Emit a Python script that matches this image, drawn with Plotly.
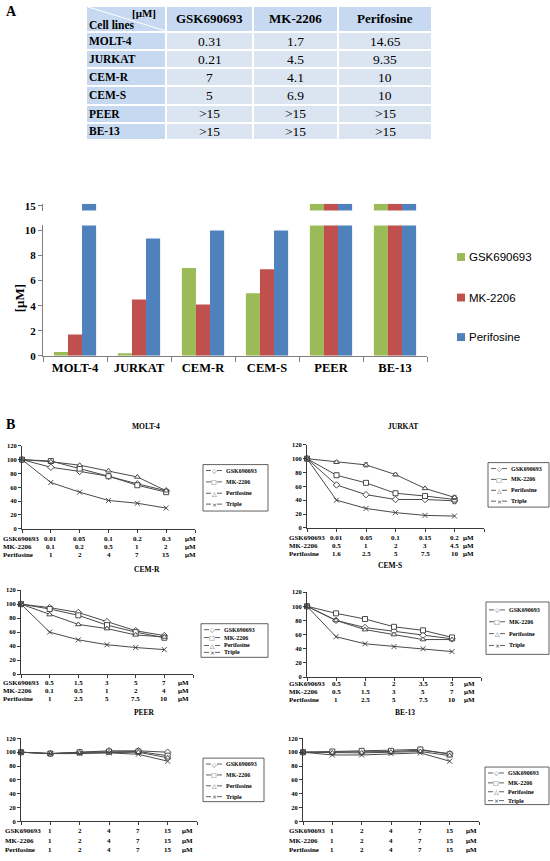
import plotly.graph_objects as go

W, H = 550, 861
SERIF = "Liberation Serif, Times New Roman, serif"
SANS = "Liberation Sans, Arial, sans-serif"

# ---------------- Panel A data ----------------
CELL_LINES = ["MOLT-4", "JURKAT", "CEM-R", "CEM-S", "PEER", "BE-13"]
DRUGS = ["GSK690693", "MK-2206", "Perifosine"]
IC50_GSK = [0.31, 0.21, 7, 5, 15, 15]
IC50_MK = [1.7, 4.5, 4.1, 6.9, 15, 15]
IC50_PERI = [14.65, 9.35, 10, 10, 15, 15]
TXT_GSK = ["0.31", "0.21", "7", "5", ">15", ">15"]
TXT_MK = ["1.7", "4.5", "4.1", "6.9", ">15", ">15"]
TXT_PERI = ["14.65", "9.35", "10", "10", ">15", ">15"]
BAR_TICKS_LOW = [0, 2, 4, 6, 8, 10]
BAR_TICKS_HIGH = [15]

# ---------------- Panel B data (% viability) ----------------
MOLT4_GSK = [100, 89, 83, 76, 65, 55]
MOLT4_MK = [100, 98, 87, 76, 63, 53]
MOLT4_PERI = [100, 97, 92, 84, 75, 55]
MOLT4_TRIPLE = [100, 67, 53, 41, 37, 30]
MOLT4_DOSE_GSK = ["0.01", "0.05", "0.1", "0.2", "0.3"]
MOLT4_DOSE_MK = ["0.1", "0.2", "0.5", "1", "2"]
MOLT4_DOSE_PERI = ["1", "2", "4", "7", "15"]

JURKAT_GSK = [100, 62, 48, 41, 41, 39]
JURKAT_MK = [100, 76, 65, 50, 46, 41]
JURKAT_PERI = [100, 95, 91, 77, 57, 44]
JURKAT_TRIPLE = [100, 40, 28, 22, 18, 17]
JURKAT_ERR_GSK = [0, 2, 1, 1, 1, 4]
JURKAT_ERR_MK = [0, 3, 1, 1, 1, 2]
JURKAT_ERR_PERI = [0, 2, 3, 2, 1, 3]
JURKAT_DOSE_GSK = ["0.01", "0.05", "0.1", "0.15", "0.2"]
JURKAT_DOSE_MK = ["0.5", "1", "2", "3", "4.5"]
JURKAT_DOSE_PERI = ["1.6", "2.5", "5", "7.5", "10"]

CEMR_GSK = [100, 95, 88, 75, 62, 55]
CEMR_MK = [100, 93, 84, 70, 60, 52]
CEMR_PERI = [100, 85, 71, 65, 56, 53]
CEMR_TRIPLE = [100, 60, 49, 42, 38, 35]
CEMR_DOSE_GSK = ["0.5", "1.5", "3", "5", "7"]
CEMR_DOSE_MK = ["0.1", "0.5", "1", "2", "4"]
CEMR_DOSE_PERI = ["1", "2.5", "5", "7.5", "10"]

CEMS_GSK = [100, 80, 70, 65, 59, 54]
CEMS_MK = [100, 90, 82, 71, 66, 56]
CEMS_PERI = [100, 80, 67, 60, 53, 53]
CEMS_TRIPLE = [100, 57, 47, 43, 40, 36]
CEMS_DOSE_GSK = ["0.5", "1", "2", "3.5", "5"]
CEMS_DOSE_MK = ["0.5", "1.5", "3", "5", "7"]
CEMS_DOSE_PERI = ["1", "2.5", "5", "7.5", "10"]

PEER_GSK = [100, 98, 100, 102, 102, 100]
PEER_MK = [100, 98, 100, 101, 101, 95]
PEER_PERI = [100, 98, 99, 99, 100, 92]
PEER_TRIPLE = [100, 98, 98, 99, 97, 87]
PEER_DOSE_GSK = ["1", "2", "4", "7", "15"]
PEER_DOSE_MK = ["1", "2", "4", "7", "15"]
PEER_DOSE_PERI = ["1", "2", "4", "7", "15"]

BE13_GSK = [100, 100, 101, 101, 103, 98]
BE13_MK = [100, 101, 102, 102, 104, 97]
BE13_PERI = [100, 99, 99, 100, 101, 95]
BE13_TRIPLE = [100, 96, 96, 98, 99, 87]
BE13_DOSE_GSK = ["1", "2", "4", "7", "15"]
BE13_DOSE_MK = ["1", "2", "4", "7", "15"]
BE13_DOSE_PERI = ["1", "2", "4", "7", "15"]

DOSE_POSITIONS = [0, 1, 2, 3, 4, 5]
SERIES_NAMES = ["GSK690693", "MK-2206", "Perifosine", "Triple"]


def X(px):
    return px / W


def Y(py):
    return 1 - py / H


fig = go.Figure()
annotations = []
shapes = []

# ---------------- Table (heatmap cells on a hidden axis) ----------------
HEAD_FILL = "#c6d9f1"
BODY_FILL = "#dbe5f1"
TABLE_COL_EDGES = [0, 80, 167, 252, 346]
TABLE_ROW_EDGES = [0, 26, 45, 63, 81, 100, 118, 136]
z = [[0, 0, 0, 0]] + [[0, 1, 1, 1] for _ in CELL_LINES]
fig.add_trace(go.Heatmap(
    x=TABLE_COL_EDGES, y=TABLE_ROW_EDGES, z=z, xaxis="x8", yaxis="y9",
    colorscale=[[0, HEAD_FILL], [1, BODY_FILL]], zmin=0, zmax=1, showscale=False,
    xgap=2, ygap=2, hoverinfo="skip",
))


def col_c(i):
    return (TABLE_COL_EDGES[i] + TABLE_COL_EDGES[i + 1]) / 2


def row_c(i):
    return (TABLE_ROW_EDGES[i] + TABLE_ROW_EDGES[i + 1]) / 2


for j, d in enumerate(DRUGS):
    annotations.append(dict(text="<b>%s</b>" % d, x=col_c(j + 1), y=row_c(0), xref="x8", yref="y9",
                            showarrow=False, font=dict(family=SERIF, size=13, color="black")))
for r, cl in enumerate(CELL_LINES):
    annotations.append(dict(text="<b>%s</b>" % cl, x=TABLE_COL_EDGES[0] + 1, y=row_c(r + 1), xref="x8",
                            yref="y9", xanchor="left", showarrow=False,
                            font=dict(family=SERIF, size=11.5, color="black")))
    for j, col in enumerate([TXT_GSK, TXT_MK, TXT_PERI]):
        annotations.append(dict(text=col[r], x=col_c(j + 1), y=row_c(r + 1), xref="x8", yref="y9",
                                showarrow=False, font=dict(family=SERIF, size=13.5, color="black")))
shapes.append(dict(type="line", xref="x8", yref="y9", x0=TABLE_COL_EDGES[0] + 2, y0=TABLE_ROW_EDGES[0] + 1,
                   x1=TABLE_COL_EDGES[1] - 1, y1=TABLE_ROW_EDGES[1] - 1,
                   line=dict(color="white", width=1), layer="above"))
annotations.append(dict(text="<b>[μM]</b>", x=X(158), y=Y(9), xref="paper", yref="paper", xanchor="right",
                        yanchor="middle", showarrow=False, font=dict(family=SERIF, size=11, color="black")))
annotations.append(dict(text="<b>Cell lines</b>", x=X(87), y=Y(21), xref="paper", yref="paper", xanchor="left",
                        yanchor="middle", showarrow=False, font=dict(family=SERIF, size=11.5, color="black")))
annotations.append(dict(text="<b>A</b>", x=X(4), y=Y(8), xref="paper", yref="paper", xanchor="left",
                        yanchor="middle", showarrow=False, font=dict(family=SERIF, size=14, color="black")))

# ---------------- Bar chart (broken axis) ----------------
BAR_COLORS = ["#9bbb59", "#c0504d", "#4f81bd"]
LOW_RANGE = [0, 10.4]
HIGH_RANGE = [14.4, 15.3]
for name, vals, col in zip(DRUGS, [IC50_GSK, IC50_MK, IC50_PERI], BAR_COLORS):
    fig.add_trace(go.Bar(x=CELL_LINES, y=vals, name=name, marker=dict(color=col, line=dict(width=0)),
                         xaxis="x", yaxis="y", showlegend=False, hoverinfo="skip"))
for name, vals, col in zip(DRUGS, [IC50_GSK, IC50_MK, IC50_PERI], BAR_COLORS):
    upper = [HIGH_RANGE[1] if v > LOW_RANGE[1] else None for v in vals]
    fig.add_trace(go.Bar(x=CELL_LINES, y=upper, name=name, marker=dict(color=col, line=dict(width=0)),
                         xaxis="x", yaxis="y2", showlegend=False, hoverinfo="skip"))

BAR_LEG_Y = [256, 297, 337]
for name, col, ly in zip(DRUGS, BAR_COLORS, BAR_LEG_Y):
    shapes.append(dict(type="rect", xref="paper", yref="paper", x0=X(457), x1=X(465), y0=Y(ly + 4),
                       y1=Y(ly - 4), fillcolor=col, line=dict(width=0)))
    annotations.append(dict(text=name, x=X(467), y=Y(ly), xref="paper", yref="paper", xanchor="left",
                            yanchor="middle", showarrow=False, font=dict(family=SANS, size=11.5, color="black")))

annotations.append(dict(text="<b>[μM]</b>", x=X(10), y=Y(282), xref="paper", yref="paper", textangle=-90,
                        showarrow=False, font=dict(family=SERIF, size=13, color="black")))

layout_axes = dict(
    xaxis=dict(domain=[X(43), X(427)], anchor="y", type="category", tickson="boundaries", ticks="outside",
               ticklen=5, tickcolor="#808080", showline=True, linecolor="#808080", showgrid=False,
               tickfont=dict(family=SERIF, size=12.5, color="black", weight="bold")),
    yaxis=dict(domain=[Y(356), Y(224)], anchor="x", range=LOW_RANGE, tickvals=BAR_TICKS_LOW, ticks="outside",
               ticklen=4, tickcolor="#808080", showline=True, linecolor="#808080", showgrid=False,
               zeroline=False, tickfont=dict(family=SERIF, size=11, color="black", weight="bold")),
    yaxis2=dict(domain=[Y(209), Y(202)], anchor="x", range=HIGH_RANGE, tickvals=BAR_TICKS_HIGH, ticks="outside",
                ticklen=4, tickcolor="#808080", showline=True, linecolor="#808080", showgrid=False,
                zeroline=False, tickfont=dict(family=SERIF, size=11, color="black", weight="bold")),
    xaxis8=dict(domain=[X(86), X(432)], anchor="y9", range=[TABLE_COL_EDGES[0], TABLE_COL_EDGES[-1]],
                visible=False, fixedrange=True),
    yaxis9=dict(domain=[Y(138), Y(2)], anchor="x8", range=[TABLE_ROW_EDGES[-1], TABLE_ROW_EDGES[0]],
                visible=False, fixedrange=True),
)

# ---------------- Panel B line charts ----------------
PANELS = [
    dict(title="MOLT-4", series=[MOLT4_GSK, MOLT4_MK, MOLT4_PERI, MOLT4_TRIPLE], err=None,
         doses=[MOLT4_DOSE_GSK, MOLT4_DOSE_MK, MOLT4_DOSE_PERI],
         box=(22, 195, 531, 447), tpos=(130, 427), lab_x=1, mu_x=190, rows=(541, 549, 557),
         leg=(203, 466, 268, 513), items=(472, 483.5, 495, 506)),
    dict(title="JURKAT", series=[JURKAT_GSK, JURKAT_MK, JURKAT_PERI, JURKAT_TRIPLE],
         err=[JURKAT_ERR_GSK, JURKAT_ERR_MK, JURKAT_ERR_PERI, None],
         doses=[JURKAT_DOSE_GSK, JURKAT_DOSE_MK, JURKAT_DOSE_PERI],
         box=(307, 484, 530, 446), tpos=(420, 427), lab_x=287, mu_x=468, rows=(540, 548, 556),
         leg=(488, 464, 549, 509), items=(470, 481, 492, 503)),
    dict(title="CEM-R", series=[CEMR_GSK, CEMR_MK, CEMR_PERI, CEMR_TRIPLE], err=None,
         doses=[CEMR_DOSE_GSK, CEMR_DOSE_MK, CEMR_DOSE_PERI],
         box=(21, 193, 678, 593), tpos=(132, 572), lab_x=1, mu_x=183, rows=(687, 695, 703),
         leg=(201, 627, 268, 661), items=(633, 641, 649, 656)),
    dict(title="CEM-S", series=[CEMS_GSK, CEMS_MK, CEMS_PERI, CEMS_TRIPLE], err=None,
         doses=[CEMS_DOSE_GSK, CEMS_DOSE_MK, CEMS_DOSE_PERI],
         box=(307, 481, 681, 595), tpos=(404, 568), lab_x=287, mu_x=469, rows=(688, 696, 704),
         leg=(486, 605, 549, 658), items=(613, 625, 637, 649)),
    dict(title="PEER", series=[PEER_GSK, PEER_MK, PEER_PERI, PEER_TRIPLE], err=None,
         doses=[PEER_DOSE_GSK, PEER_DOSE_MK, PEER_DOSE_PERI],
         box=(21, 197, 827, 743), tpos=(132, 723), lab_x=3, mu_x=187, rows=(837, 847, 856),
         leg=(203, 763, 264, 807), items=(769, 780, 791, 802)),
    dict(title="BE-13", series=[BE13_GSK, BE13_MK, BE13_PERI, BE13_TRIPLE], err=None,
         doses=[BE13_DOSE_GSK, BE13_DOSE_MK, BE13_DOSE_PERI],
         box=(303, 479, 827, 743), tpos=(417, 723), lab_x=287, mu_x=471, rows=(837, 847, 856),
         leg=(485, 772, 549, 810), items=(778, 788, 797, 806)),
]
SYMBOLS = ["diamond", "square", "triangle-up", "x-thin"]
LEG_GLYPHS = ["◇", "□", "△", "×"]
DARK = "#3a3a3a"
DRUG_LABELS = ["GSK690693", "MK-2206", "Perifosine"]

for i, p in enumerate(PANELS):
    xa = "x%d" % (i + 2)
    ya = "y%d" % (i + 3)
    x0, x1, yb, yt = p["box"]
    layout_axes["xaxis%d" % (i + 2)] = dict(
        domain=[X(x0), X(x1)], anchor=ya, range=[0, 6], tickvals=list(range(7)), ticks="outside",
        ticklen=3, tickcolor=DARK, showline=True, linecolor=DARK, linewidth=1, showgrid=False,
        zeroline=False, showticklabels=False)
    layout_axes["yaxis%d" % (i + 3)] = dict(
        domain=[Y(yb), Y(yt)], anchor=xa, range=[0, 120], dtick=20, ticks="outside", ticklen=3,
        tickcolor=DARK, showline=True, linecolor=DARK, linewidth=1, showgrid=False, zeroline=False,
        tickfont=dict(family=SERIF, size=6.5, color="black", weight="bold"))
    for k, (sname, vals) in enumerate(zip(SERIES_NAMES, p["series"])):
        err = p["err"][k] if p["err"] else None
        tr = go.Scatter(
            x=DOSE_POSITIONS, y=vals, name=sname, mode="lines+markers", xaxis=xa, yaxis=ya,
            showlegend=False, cliponaxis=False, hoverinfo="skip",
            line=dict(color="#4a4a4a", width=1),
            marker=dict(symbol=SYMBOLS[k], size=5, color="white" if k < 3 else DARK,
                        line=dict(color=DARK, width=0.9)),
        )
        if err is not None:
            tr.error_y = dict(type="data", array=err, visible=True, color=DARK, thickness=0.8, width=2)
        fig.add_trace(tr)
    annotations.append(dict(text="<b>%s</b>" % p["title"], x=X(p["tpos"][0]), y=Y(p["tpos"][1]),
                            xref="paper", yref="paper", showarrow=False,
                            font=dict(family=SERIF, size=7.5, color="black")))
    for r, (lab, doses) in enumerate(zip(DRUG_LABELS, p["doses"])):
        ry = Y(p["rows"][r])
        annotations.append(dict(text="<b>%s</b>" % lab, x=X(p["lab_x"]), y=ry, xref="paper", yref="paper",
                                xanchor="left", yanchor="middle", showarrow=False,
                                font=dict(family=SERIF, size=7, color="black")))
        for j, d in enumerate(doses):
            annotations.append(dict(text="<b>%s</b>" % d, x=DOSE_POSITIONS[j + 1], y=ry, xref=xa, yref="paper",
                                    xanchor="center", yanchor="middle", showarrow=False,
                                    font=dict(family=SERIF, size=7, color="black")))
        annotations.append(dict(text="<b>μM</b>", x=X(p["mu_x"]), y=ry, xref="paper", yref="paper",
                                xanchor="center", yanchor="middle", showarrow=False,
                                font=dict(family=SERIF, size=7, color="black")))
    lx0, ly0, lx1, ly1 = p["leg"]
    shapes.append(dict(type="rect", xref="paper", yref="paper", x0=X(lx0), x1=X(lx1), y0=Y(ly0), y1=Y(ly1),
                       line=dict(color=DARK, width=0.8), fillcolor="white", layer="above"))
    for k, sname in enumerate(SERIES_NAMES):
        iy = p["items"][k]
        for sx0, sx1 in ((lx0 + 3, lx0 + 8), (lx0 + 14, lx0 + 19)):
            shapes.append(dict(type="line", xref="paper", yref="paper", x0=X(sx0), x1=X(sx1), y0=Y(iy),
                               y1=Y(iy), line=dict(color=DARK, width=0.8), layer="above"))
        annotations.append(dict(text=LEG_GLYPHS[k], x=X(lx0 + 11), y=Y(iy), xref="paper", yref="paper",
                                xanchor="center", yanchor="middle", showarrow=False,
                                font=dict(family="DejaVu Sans, sans-serif", size=6, color=DARK)))
        annotations.append(dict(text="<b>%s</b>" % sname, x=X(lx0 + 21), y=Y(iy), xref="paper", yref="paper",
                                xanchor="left", yanchor="middle", showarrow=False,
                                font=dict(family=SERIF, size=6, color="black")))

annotations.append(dict(text="<b>B</b>", x=X(4), y=Y(425), xref="paper", yref="paper", xanchor="left",
                        yanchor="middle", showarrow=False, font=dict(family=SERIF, size=14, color="black")))

fig.update_layout(
    width=W, height=H, margin=dict(l=0, r=0, t=0, b=0),
    paper_bgcolor="white", plot_bgcolor="white",
    barmode="group", bargap=0.34, bargroupgap=0,
    showlegend=False,
    annotations=annotations, shapes=shapes,
    **layout_axes,
)

fig.write_html("out.html", config=dict(displayModeBar=False),
               post_script="document.body.style.margin='0px';document.body.style.overflow='hidden';")
